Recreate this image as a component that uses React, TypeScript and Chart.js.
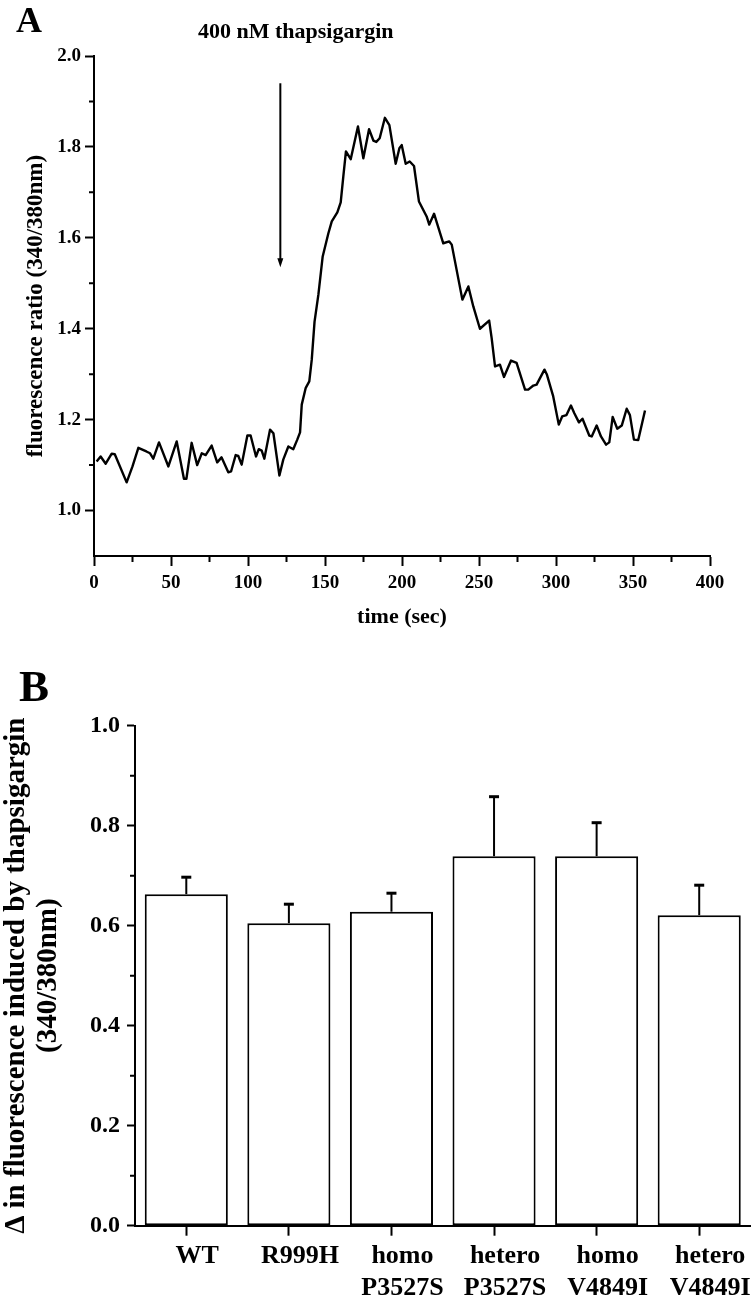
import React, { useEffect, useRef } from 'react';
import { Chart, registerables } from 'chart.js';

Chart.register(...registerables);

const FONT = "'Liberation Serif', 'Times New Roman', 'DejaVu Serif', serif";

// ---------- Panel A data ----------
const TIME_SEC = [
  1.7, 4.3, 7.6, 11.5, 13.5, 21.2, 25, 28.8, 34, 36.4, 38.5, 42.2, 48.3, 53.7, 58.4, 60,
  63.4, 67, 70, 72.5, 76.4, 80, 82.8, 87.2, 89, 92, 93.7, 95.9, 99.6, 101.7, 105.2, 107,
  108.9, 110.6, 114.3, 116.5, 120.4, 122.9, 126.2, 129.4, 132, 133.8, 134.9, 137.5, 139.8,
  141.4, 143.2, 145.7, 148.5, 152.2, 154.4, 158, 160.2, 161.9, 163.6, 166.7, 171.4, 174.9,
  178.6, 181.4, 183.3, 185.5, 188.9, 191.8, 195.9, 198.3, 199.8, 202.4, 205, 207.8, 211,
  216, 217.7, 220.8, 226.8, 230.7, 232.3, 239.2, 243.1, 246.3, 250.6, 256.6, 258.2, 260.4,
  263.6, 266.2, 270.8, 274.4, 279.9, 282, 285.3, 287.4, 292.5, 294, 298.2, 301.8, 304,
  306.8, 309.7, 311.9, 314.9, 317.2, 321.6, 323.2, 326.4, 329.2, 332.5, 334.6, 336.8,
  339.8, 342.7, 345.9, 348, 350.6, 353.4, 357.8,
];
const RATIO = [
  1.108, 1.119, 1.103, 1.125, 1.124, 1.062, 1.097, 1.138, 1.13, 1.126, 1.114, 1.15, 1.097,
  1.152, 1.07, 1.07, 1.149, 1.1, 1.126, 1.122, 1.143, 1.106, 1.117, 1.084, 1.086, 1.122,
  1.12, 1.101, 1.165, 1.165, 1.119, 1.135, 1.132, 1.114, 1.178, 1.17, 1.077, 1.112, 1.141,
  1.135, 1.156, 1.172, 1.233, 1.27, 1.284, 1.332, 1.415, 1.475, 1.559, 1.61, 1.636, 1.656,
  1.678, 1.735, 1.79, 1.773, 1.845, 1.775, 1.839, 1.814, 1.811, 1.819, 1.864, 1.848, 1.763,
  1.797, 1.804, 1.763, 1.768, 1.758, 1.68, 1.647, 1.629, 1.653, 1.588, 1.592, 1.585, 1.464,
  1.493, 1.449, 1.4, 1.418, 1.38, 1.317, 1.321, 1.294, 1.33, 1.325, 1.266, 1.266, 1.275,
  1.277, 1.31, 1.3, 1.251, 1.189, 1.207, 1.21, 1.231, 1.214, 1.194, 1.202, 1.165, 1.163,
  1.187, 1.163, 1.145, 1.15, 1.206, 1.18, 1.187, 1.224, 1.21, 1.156, 1.155, 1.22,
];
const XA_TICKS = [0, 50, 100, 150, 200, 250, 300, 350, 400];
const XA_MINOR = [25, 75, 125, 175, 225, 275, 325, 375];
const YA_TICKS = [1.0, 1.2, 1.4, 1.6, 1.8, 2.0];
const YA_MINOR = [1.1, 1.3, 1.5, 1.7, 1.9];
const ARROW_TIME = 121;
const ARROW_FROM = 1.94;
const ARROW_TO = 1.535;

// ---------- Panel B data ----------
const GENOTYPES = [
  ['WT'],
  ['R999H'],
  ['homo', 'P3527S'],
  ['hetero', 'P3527S'],
  ['homo', 'V4849I'],
  ['hetero', 'V4849I'],
];
const DELTA = [0.663, 0.605, 0.628, 0.739, 0.739, 0.621];
const SEM = [0.034, 0.038, 0.037, 0.119, 0.067, 0.06];
const YB_TICKS = [0.0, 0.2, 0.4, 0.6, 0.8, 1.0];
const YB_MINOR = [0.1, 0.3, 0.5, 0.7, 0.9];

function minorTicks(id: string, axisId: string, values: number[], len: number) {
  return {
    id,
    afterDraw(chart: any) {
      const s = chart.scales[axisId];
      const ctx = chart.ctx;
      ctx.save();
      ctx.strokeStyle = '#000';
      ctx.lineWidth = 2;
      ctx.beginPath();
      values.forEach((v) => {
        const p = s.getPixelForValue(v);
        if (s.isHorizontal()) {
          ctx.moveTo(p, s.top);
          ctx.lineTo(p, s.top + len);
        } else {
          ctx.moveTo(s.right - len, p);
          ctx.lineTo(s.right, p);
        }
      });
      ctx.stroke();
      ctx.restore();
    },
  };
}

const arrowPlugin = {
  id: 'arrowA',
  afterDatasetsDraw(chart: any) {
    const xs = chart.scales.x;
    const ys = chart.scales.y;
    const ctx = chart.ctx;
    const x = xs.getPixelForValue(ARROW_TIME);
    const y1 = ys.getPixelForValue(ARROW_FROM);
    const y2 = ys.getPixelForValue(ARROW_TO);
    ctx.save();
    ctx.strokeStyle = '#000';
    ctx.fillStyle = '#000';
    ctx.lineWidth = 2;
    ctx.beginPath();
    ctx.moveTo(x, y1);
    ctx.lineTo(x, y2 - 8);
    ctx.stroke();
    ctx.beginPath();
    ctx.moveTo(x - 3, y2 - 9);
    ctx.lineTo(x + 3, y2 - 9);
    ctx.lineTo(x, y2);
    ctx.closePath();
    ctx.fill();
    ctx.restore();
  },
};

const errorBarPlugin = {
  id: 'errB',
  afterDatasetsDraw(chart: any) {
    const xs = chart.scales.x;
    const ys = chart.scales.y;
    const ctx = chart.ctx;
    ctx.save();
    ctx.strokeStyle = '#000';
    ctx.lineWidth = 2;
    DELTA.forEach((v, i) => {
      const x = xs.getPixelForValue(i);
      const yTop = ys.getPixelForValue(v);
      const yErr = ys.getPixelForValue(v + SEM[i]);
      ctx.beginPath();
      ctx.moveTo(x, yTop);
      ctx.lineTo(x, yErr);
      ctx.stroke();
      ctx.lineWidth = 3;
      ctx.beginPath();
      ctx.moveTo(x - 5, yErr);
      ctx.lineTo(x + 5, yErr);
      ctx.stroke();
      ctx.lineWidth = 2;
    });
    ctx.restore();
  },
};

function PanelA() {
  const ref = useRef<HTMLCanvasElement>(null);
  useEffect(() => {
    if (!ref.current) return;
    const chart = new Chart(ref.current, {
      type: 'line',
      data: {
        datasets: [
          {
            data: TIME_SEC.map((t, i) => ({ x: t, y: RATIO[i] })),
            borderColor: '#000',
            borderWidth: 2.4,
            pointRadius: 0,
            tension: 0,
            borderJoinStyle: 'round',
          } as any,
        ],
      },
      options: {
        responsive: false,
        animation: false,
        layout: { padding: { left: 0, top: 56, right: 46, bottom: 14 } },
        plugins: { legend: { display: false }, tooltip: { enabled: false } },
        scales: {
          x: {
            type: 'linear',
            min: 0,
            max: 400,
            afterBuildTicks: (s: any) => {
              s.ticks = XA_TICKS.map((v) => ({ value: v }));
            },
            afterFit: (s: any) => {
              s.height = 80;
            },
            border: { display: true, color: '#000', width: 2 },
            grid: { drawOnChartArea: false, color: '#000', tickColor: '#000', tickLength: 10, tickWidth: 2 },
            ticks: {
              color: '#000',
              padding: 6,
              maxRotation: 0,
              autoSkip: false,
              font: { family: FONT, size: 19, weight: 'bold' },
              callback: (v: any) => String(v),
            },
            title: {
              display: true,
              text: 'time (sec)',
              color: '#000',
              font: { family: FONT, size: 22, weight: 'bold', lineHeight: 1.2 },
              padding: { top: 0, bottom: 5 },
            },
          },
          y: {
            type: 'linear',
            min: 0.9,
            max: 2.0,
            afterBuildTicks: (s: any) => {
              s.ticks = YA_TICKS.map((v) => ({ value: v }));
            },
            afterFit: (s: any) => {
              s.width = 94;
            },
            border: { display: true, color: '#000', width: 2 },
            grid: { drawOnChartArea: false, color: '#000', tickColor: '#000', tickLength: 9, tickWidth: 2 },
            ticks: {
              color: '#000',
              padding: 4,
              font: { family: FONT, size: 19, weight: 'bold' },
              callback: (v: any) => Number(v).toFixed(1),
            },
            title: {
              display: true,
              text: 'fluorescence ratio (340/380nm)',
              color: '#000',
              font: { family: FONT, size: 23, weight: 'bold', lineHeight: 1.2 },
              padding: { top: 22, bottom: 0 },
            },
          },
        },
      },
      plugins: [
        minorTicks('minXA', 'x', XA_MINOR, 6),
        minorTicks('minYA', 'y', YA_MINOR, 5),
        arrowPlugin,
      ],
    } as any);
    return () => chart.destroy();
  }, []);
  return (
    <canvas
      ref={ref}
      width={756}
      height={650}
      style={{ position: 'absolute', left: 0, top: 0, width: 756, height: 650, display: 'block' }}
    />
  );
}

function PanelB() {
  const ref = useRef<HTMLCanvasElement>(null);
  useEffect(() => {
    if (!ref.current) return;
    const chart = new Chart(ref.current, {
      type: 'bar',
      data: {
        labels: GENOTYPES,
        datasets: [
          {
            data: DELTA,
            backgroundColor: '#fff',
            borderColor: '#000',
            borderWidth: 2,
            borderSkipped: false,
            barPercentage: 0.81,
            categoryPercentage: 1.0,
          } as any,
        ],
      },
      options: {
        responsive: false,
        animation: false,
        layout: { padding: { left: 0, top: 75.7, right: 5.5, bottom: 4.3 } },
        plugins: { legend: { display: false }, tooltip: { enabled: false } },
        scales: {
          x: {
            type: 'category',
            offset: true,
            afterFit: (s: any) => {
              s.height = 80;
            },
            border: { display: true, color: '#000', width: 2 },
            grid: {
              offset: false,
              drawOnChartArea: false,
              color: '#000',
              tickColor: '#000',
              tickLength: 10,
              tickWidth: 2,
            },
            ticks: {
              color: '#000',
              padding: 5,
              labelOffset: 11,
              maxRotation: 0,
              autoSkip: false,
              font: { family: FONT, size: 26, weight: 'bold', lineHeight: 1.23 },
            },
          },
          y: {
            type: 'linear',
            min: 0,
            max: 1.0,
            afterBuildTicks: (s: any) => {
              s.ticks = YB_TICKS.map((v) => ({ value: v }));
            },
            afterFit: (s: any) => {
              s.width = 135;
            },
            border: { display: true, color: '#000', width: 2 },
            grid: { drawOnChartArea: false, color: '#000', tickColor: '#000', tickLength: 8, tickWidth: 2 },
            ticks: {
              color: '#000',
              padding: 7,
              font: { family: FONT, size: 24, weight: 'bold' },
              callback: (v: any) => Number(v).toFixed(1),
            },
            title: {
              display: true,
              text: ['\u0394 in fluorescence induced by thapsigargin', '(340/380nm)'],
              color: '#000',
              font: { family: FONT, size: 29, weight: 'bold', lineHeight: 1.12 },
              padding: { top: 0, bottom: 0 },
            },
          },
        },
      },
      plugins: [minorTicks('minYB', 'y', YB_MINOR, 5), errorBarPlugin],
    } as any);
    return () => chart.destroy();
  }, []);
  return (
    <canvas
      ref={ref}
      width={756}
      height={660}
      style={{ position: 'absolute', left: 0, top: 650, width: 756, height: 660, display: 'block' }}
    />
  );
}

const labelStyle = (left: number, top: number, size: number): React.CSSProperties => ({
  position: 'absolute',
  left,
  top,
  fontFamily: FONT,
  fontWeight: 'bold',
  fontSize: size,
  lineHeight: `${size}px`,
  color: '#000',
  whiteSpace: 'nowrap',
});

export default function App() {
  return (
    <div style={{ position: 'absolute', left: 0, top: 0, width: 756, height: 1310, background: '#fff', overflow: 'hidden' }}>
      <PanelA />
      <PanelB />
      <div style={labelStyle(16, 2, 36)}>A</div>
      <div style={labelStyle(198, 20, 22)}>400 nM thapsigargin</div>
      <div style={labelStyle(19, 664, 45)}>B</div>
    </div>
  );
}
